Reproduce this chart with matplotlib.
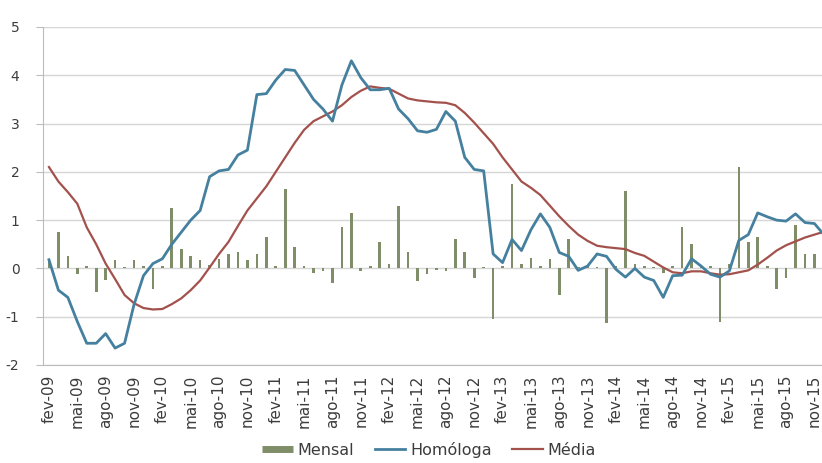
import matplotlib
matplotlib.use("Agg")
import matplotlib.pyplot as plt
from matplotlib.lines import Line2D

plt.rcParams["axes.unicode_minus"] = False

# Variação do IPC (%): mensal, homóloga e média dos últimos 12 meses, fev-09 em diante
mensal = [0.2, 0.76, 0.25, -0.12, 0.05, -0.48, -0.24, 0.17, 0.03, 0.17,
          0.04, -0.42, 0.05, 1.25, 0.4, 0.25, 0.17, 0.07, 0.2, 0.3,
          0.34, 0.17, 0.3, 0.65, 0.05, 1.65, 0.45, 0.05, -0.1, -0.05,
          -0.3, 0.85, 1.15, -0.05, 0.05, 0.55, 0.1, 1.3, 0.35, -0.25,
          -0.12, -0.03, -0.05, 0.6, 0.33, -0.2, 0.02, -1.05, 0.05, 1.75,
          0.1, 0.22, 0.05, 0.2, -0.55, 0.6, 0.02, 0.05, 0.02, -1.12,
          0.05, 1.6, 0.1, 0.05, 0.02, -0.1, 0.05, 0.85, 0.5, 0.02,
          0.05, -1.1, 0.1, 2.1, 0.55, 0.65, 0.05, -0.42, -0.2, 0.9,
          0.3, 0.3, 0.2]

homologa = [0.18, -0.45, -0.6, -1.1, -1.55, -1.55, -1.35, -1.65, -1.55, -0.75,
            -0.15, 0.1, 0.2, 0.5, 0.75, 1.0, 1.2, 1.9, 2.02, 2.05,
            2.35, 2.45, 3.6, 3.62, 3.9, 4.12, 4.1, 3.8, 3.5, 3.3,
            3.05, 3.8, 4.3, 3.95, 3.7, 3.7, 3.73, 3.3, 3.1, 2.85,
            2.82, 2.88, 3.25, 3.05, 2.3, 2.05, 2.02, 0.3, 0.12, 0.6,
            0.37, 0.8, 1.13, 0.85, 0.33, 0.25, -0.04, 0.05, 0.3, 0.25,
            -0.02, -0.18, 0.0, -0.18, -0.25, -0.6, -0.15, -0.14, 0.2, 0.05,
            -0.12, -0.18, -0.05, 0.58, 0.7, 1.15, 1.07, 1.0, 0.98, 1.13,
            0.95, 0.93, 0.7]

media = [2.1, 1.8, 1.58, 1.34, 0.85, 0.5, 0.1, -0.22, -0.55, -0.72,
         -0.82, -0.85, -0.84, -0.74, -0.62, -0.45, -0.25, 0.02, 0.3, 0.55,
         0.88, 1.2, 1.45, 1.7, 2.0, 2.3, 2.6, 2.87, 3.05, 3.15,
         3.25, 3.38, 3.55, 3.68, 3.77, 3.74, 3.72, 3.62, 3.52, 3.48,
         3.46, 3.44, 3.43, 3.38, 3.22, 3.02, 2.8, 2.58, 2.3, 2.05,
         1.8, 1.67, 1.52, 1.3, 1.08, 0.88, 0.7, 0.57, 0.47, 0.44,
         0.42, 0.4, 0.32, 0.26, 0.14, 0.02, -0.08, -0.1, -0.06, -0.06,
         -0.1, -0.13, -0.12, -0.08, -0.04, 0.08, 0.22, 0.37, 0.48, 0.56,
         0.64, 0.7, 0.76]

# um rótulo a cada 3 meses
rotulos = ["fev-09", "mai-09", "ago-09", "nov-09",
           "fev-10", "mai-10", "ago-10", "nov-10",
           "fev-11", "mai-11", "ago-11", "nov-11",
           "fev-12", "mai-12", "ago-12", "nov-12",
           "fev-13", "mai-13", "ago-13", "nov-13",
           "fev-14", "mai-14", "ago-14", "nov-14",
           "fev-15", "mai-15", "ago-15", "nov-15"]

COR_MENSAL = "#7f8e68"
COR_HOMOLOGA = "#45809f"
COR_MEDIA = "#a3514c"

x = list(range(len(homologa)))

fig = plt.figure(figsize=(8.22, 4.63), dpi=100)
ax = fig.add_axes([43 / 822, 1 - 365 / 463, 1 - 43 / 822, 338 / 463])

ax.bar(x, mensal, width=0.28, color=COR_MENSAL, zorder=2)
ax.plot(x, media, color=COR_MEDIA, lw=1.6, zorder=3)
ax.plot(x, homologa, color=COR_HOMOLOGA, lw=2.0, zorder=4)

ax.set_ylim(-2, 5)
ax.set_yticks(range(-2, 6))
ax.set_xlim(-0.63, 81.8)
ax.set_xticks(range(0, 3 * len(rotulos), 3))
ax.set_xticklabels(rotulos, rotation=90, fontsize=11, color="#3c3c3c")

ax.grid(axis="y", color="#d6d6d6", lw=1, zorder=0)
ax.set_axisbelow(True)
for lado in ("top", "right"):
    ax.spines[lado].set_visible(False)
ax.spines["left"].set_color("#bcbcbc")
ax.spines["bottom"].set_color("#bcbcbc")
ax.tick_params(axis="y", length=5, color="#bcbcbc", pad=12, labelsize=10,
               labelcolor="#3c3c3c")
ax.tick_params(axis="x", length=0, pad=7)

handles = [Line2D([], [], color=COR_MENSAL, lw=5, solid_capstyle="butt"),
           Line2D([], [], color=COR_HOMOLOGA, lw=2.0),
           Line2D([], [], color=COR_MEDIA, lw=1.6)]
fig.legend(handles, ["Mensal", "Homóloga", "Média"], loc="center",
           bbox_to_anchor=(429 / 822, 0.028), ncol=3, frameon=False,
           fontsize=11.5, handlelength=1.9, handletextpad=0.3,
           columnspacing=1.3, labelcolor="#3c3c3c", borderpad=0.1)

fig.savefig("out.png", dpi=100)
